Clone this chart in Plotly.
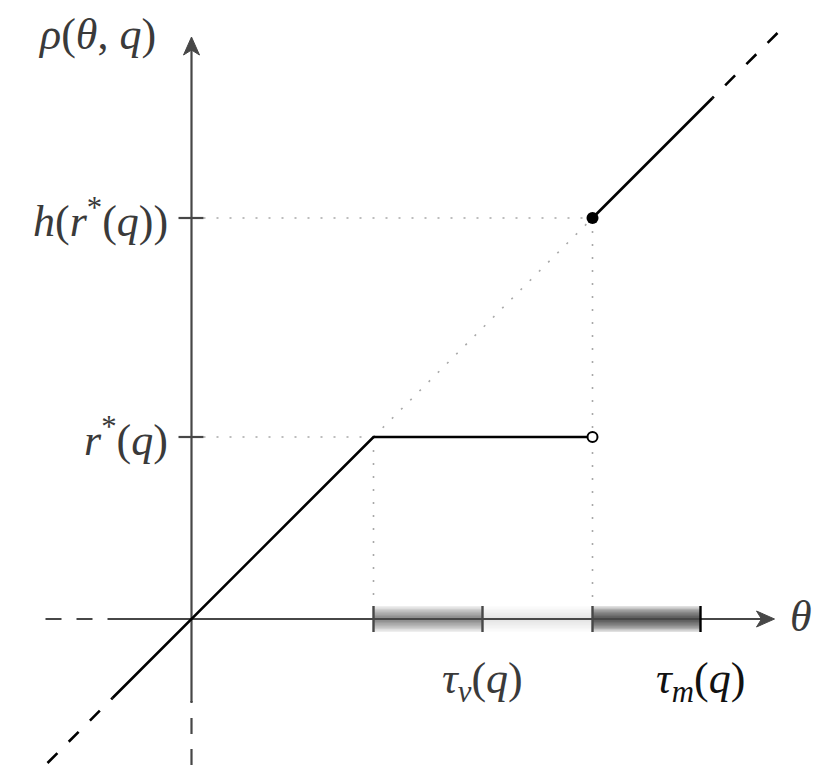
import plotly.graph_objects as go

# units: one unit = one pixel, origin where the two axes cross
r_star = 182            # level of the flat part, r*(q)
h_r_star = 401          # level right after the jump, h(r*(q))
theta_kink = 182        # rho leaves the 45-degree line here
theta_jump = 401        # rho jumps back onto it here
theta_ticks = [182, 291, 401, 509]
band_shade = [0.52, 0.14, 0.76]       # darkness at the centre of each band
y_tick_vals = [r_star, h_r_star]
y_tick_text = ["<i>r</i><sup>*</sup>(<i>q</i>)",
               "<i>h</i>(<i>r</i><sup>*</sup>(<i>q</i>))"]
x_tick_text = ["<i>τ</i><sub><i>v</i></sub>(<i>q</i>)",
               "<i>τ</i><sub><i>m</i></sub>(<i>q</i>)"]

diag_lo, diag_solid_lo, diag_solid_hi, diag_hi = -144, -79, 521, 586
axis_lo, axis_solid_lo = -146, -82
x_axis_hi, y_axis_hi = 583, 582

AXIS = "#474747"
DOT = "#a8a8a8"
FONT = "Liberation Serif"
FS = 44

fig = go.Figure()


def seg(x, y, color, width, dash="solid"):
    fig.add_trace(go.Scatter(x=x, y=y, mode="lines", hoverinfo="skip",
                             line=dict(color=color, width=width, dash=dash)))


# shaded bands on the theta axis (stacked translucent strips -> soft gradient)
n_layers = 9
for (x0, x1), d in zip(zip(theta_ticks[:-1], theta_ticks[1:]), band_shade):
    a = 1 - (1 - d) ** (1 / n_layers)
    for i in range(1, n_layers + 1):
        hh = 13 * i / n_layers
        fig.add_shape(type="rect", x0=x0, x1=x1, y0=-hh, y1=hh, layer="below",
                      line_width=0, fillcolor=f"rgba(40,40,40,{a:.3f})")

# dotted guide lines
seg([12, theta_kink], [r_star, r_star], DOT, 1.6, "2px,11px")
seg([12, theta_jump], [h_r_star, h_r_star], DOT, 1.6, "2px,11px")
seg([theta_kink, theta_jump], [r_star, h_r_star], DOT, 1.6, "2px,11px")
seg([theta_kink, theta_kink], [r_star, 14], DOT, 1.6, "2px,11px")
seg([theta_jump, theta_jump], [h_r_star, 14], DOT, 1.6, "2px,11px")

# axes
seg([axis_lo, axis_solid_lo], [0, 0], AXIS, 2.2, "16px,15px")
seg([axis_solid_lo - 1, x_axis_hi - 10], [0, 0], AXIS, 2.2)
seg([0, 0], [axis_lo, axis_solid_lo], AXIS, 2.2, "16px,15px")
seg([0, 0], [axis_solid_lo - 1, y_axis_hi - 10], AXIS, 2.2)

# arrow heads
fig.add_trace(go.Scatter(x=[x_axis_hi, x_axis_hi - 18, x_axis_hi - 13, x_axis_hi - 18, x_axis_hi],
                         y=[0, 8, 0, -8, 0], mode="lines", fill="toself",
                         fillcolor=AXIS, line=dict(color=AXIS, width=1), hoverinfo="skip"))
fig.add_trace(go.Scatter(y=[y_axis_hi, y_axis_hi - 18, y_axis_hi - 13, y_axis_hi - 18, y_axis_hi],
                         x=[0, 8, 0, -8, 0], mode="lines", fill="toself",
                         fillcolor=AXIS, line=dict(color=AXIS, width=1), hoverinfo="skip"))

# tick marks
for v in y_tick_vals:
    seg([-13, 12], [v, v], AXIS, 2.2)
for i, t in enumerate(theta_ticks):
    seg([t, t], [-13, 13], "#000000" if i == len(theta_ticks) - 1 else AXIS, 2.4)

# rho(theta, q)
seg([diag_lo, diag_solid_lo], [diag_lo, diag_solid_lo], "#000000", 2.6, "14px,16px")
seg([diag_solid_lo, theta_kink, theta_jump], [diag_solid_lo, r_star, r_star], "#000000", 2.6)
seg([theta_jump, diag_solid_hi], [h_r_star, diag_solid_hi], "#000000", 2.6)
seg([diag_hi, diag_solid_hi], [diag_hi, diag_solid_hi], "#000000", 2.6, "14px,16px")

fig.add_trace(go.Scatter(x=[theta_jump], y=[h_r_star], mode="markers", hoverinfo="skip",
                         marker=dict(size=12, color="#000000")))
fig.add_trace(go.Scatter(x=[theta_jump], y=[r_star], mode="markers", hoverinfo="skip",
                         marker=dict(size=10, color="white", line=dict(color="#000000", width=2))))

# labels
lab = dict(showarrow=False, font=dict(family=FONT, size=FS, color="#3a3a3a"))
fig.add_annotation(x=-95, y=585, text="<i>ρ</i>(<i>θ</i>, <i>q</i>)", **lab)
for v, t in zip(y_tick_vals, y_tick_text):
    fig.add_annotation(x=-22, y=v, text=t, xanchor="right", **lab)
fig.add_annotation(x=609, y=3, text="<i>θ</i>", **lab)
fig.add_annotation(x=theta_ticks[1], y=-62, text=x_tick_text[0], **lab)
fig.add_annotation(x=theta_ticks[3], y=-62, text=x_tick_text[1],
                   showarrow=False, font=dict(family=FONT, size=FS, color="#111111"))

# the page puts the plot 8px in from the top-left corner; shift ranges to compensate
fig.update_layout(
    width=822, height=757, autosize=False,
    margin=dict(l=0, r=0, t=0, b=0),
    paper_bgcolor="white", plot_bgcolor="white",
    showlegend=False,
    xaxis=dict(range=[-183.5, 638.5], visible=False, fixedrange=True),
    yaxis=dict(range=[-146, 611], visible=False, fixedrange=True),
)

fig.write_html("out.html")
